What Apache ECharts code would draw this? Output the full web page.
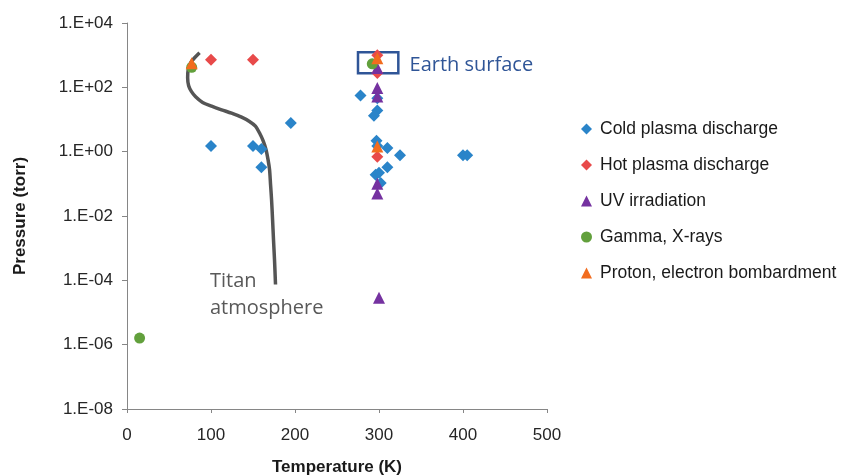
<!DOCTYPE html>
<html>
<head>
<meta charset="UTF-8">
<title>Pressure vs temperature</title>
<script src="https://cdn.jsdelivr.net/npm/echarts@6/dist/echarts.min.js"></script>
<style>
  html, body { margin: 0; padding: 0; background: #fff; }
  #main { width: 841px; height: 476px; }
</style>
</head>
<body>
<div id="main"></div>
<script>
// values: temperature (K) / pressure (torr)
var coldT = [100, 150, 160, 160, 195, 278, 298, 294, 298, 297, 298, 310, 325, 310, 296, 300, 302, 400, 405];
var coldP = [1.5, 1.5, 1.2, 0.33, 7.8, 56, 19, 13, 46, 2.2, 1.5, 1.3, 0.78, 0.33, 0.19, 0.22, 0.107, 0.78, 0.78];

var hotT = [100, 150, 298, 298, 298];
var hotP = [720, 720, 1000, 280, 0.7];

var uvT = [298, 298, 298, 298, 298, 300];
var uvP = [400, 95, 52, 0.1, 0.05, 2.9e-5];

var gammaT = [77, 292, 15];
var gammaP = [420, 540, 1.6e-6];

var protonT = [77, 298, 298];
var protonP = [560, 800, 1.45];

// Titan atmosphere profile
var titanT = [86.4, 80.5, 75.7, 72.8, 72.2, 73.4, 76.6, 81.7, 90, 100.7, 112.6, 124.5, 136.4, 145.8, 152.9, 157.8, 162, 165.5, 167.9, 169.7, 170.9, 172.1, 173.3, 174.4, 175.6, 176.8];
var titanP = [1190, 830, 580, 350, 200, 112, 75, 51, 34, 26, 20, 15.7, 11.8, 8.7, 6.2, 3.8, 2.2, 1.15, 0.565, 0.276, 0.094, 0.032, 0.0077, 0.00185, 0.00044, 0.000074];

var seriesNames = ['Cold plasma discharge', 'Hot plasma discharge', 'UV irradiation', 'Gamma, X-rays', 'Proton, electron bombardment'];

function pairs(xs, ys) {
  var out = [];
  for (var i = 0; i < xs.length; i++) out.push([xs[i], ys[i]]);
  return out;
}

var myChart = echarts.init(document.getElementById('main'));

var font = '"Liberation Sans", Arial, sans-serif';

var option = {
  animation: false,
  backgroundColor: '#fff',
  grid: { left: 127, right: 294, top: 23, bottom: 67, outerBoundsMode: 'none', containLabel: false },
  legend: {
    data: seriesNames,
    orient: 'vertical',
    left: 576,
    top: 115,
    itemWidth: 11,
    itemHeight: 11,
    itemGap: 18,
    textStyle: { fontFamily: font, fontSize: 17.5, color: '#1a1a1a', padding: [0, 0, 0, 3] }
  },
  xAxis: {
    type: 'value',
    min: 0, max: 500, interval: 100,
    name: 'Temperature (K)',
    nameLocation: 'middle',
    nameGap: 50,
    nameTextStyle: { fontFamily: font, fontSize: 17, fontWeight: 'bold', color: '#1a1a1a' },
    axisLine: { onZero: false, lineStyle: { color: '#868686', width: 1 } },
    axisTick: { show: true, length: 4, lineStyle: { color: '#868686' } },
    axisLabel: { fontFamily: font, fontSize: 17, color: '#262626', margin: 18 },
    splitLine: { show: false }
  },
  yAxis: {
    type: 'log',
    logBase: 10,
    min: 1e-8, max: 1e4, interval: 2,
    name: 'Pressure (torr)',
    nameLocation: 'middle',
    nameGap: 98,
    nameTextStyle: { fontFamily: font, fontSize: 17, fontWeight: 'bold', color: '#1a1a1a' },
    axisLine: { show: true, lineStyle: { color: '#868686', width: 1 } },
    axisTick: { show: true, length: 5, lineStyle: { color: '#868686' } },
    minorTick: { show: false },
    axisLabel: {
      fontFamily: font, fontSize: 17, color: '#262626', margin: 14,
      formatter: function (v) {
        var e = Math.round(Math.log10(v));
        var a = Math.abs(e);
        return '1.E' + (e < 0 ? '-' : '+') + (a < 10 ? '0' : '') + a;
      }
    },
    splitLine: { show: false }
  },
  graphic: [{
    type: 'text',
    left: 210,
    top: 268,
    style: {
      text: 'Titan\natmosphere',
      fontFamily: '"Open Sans", sans-serif',
      fontSize: 20,
      lineHeight: 27,
      fill: '#595959'
    }
  }],
  series: [
    {
      name: 'Titan',
      type: 'line',
      data: pairs(titanT, titanP),
      smooth: 0.3,
      showSymbol: false,
      lineStyle: { color: '#555555', width: 3.5 },
      z: 1
    },
    {
      name: seriesNames[0],
      type: 'scatter',
      symbol: 'diamond',
      symbolSize: 12,
      itemStyle: { color: '#2a84c9', opacity: 1 },
      data: pairs(coldT, coldP),
      markArea: {
        silent: true,
        itemStyle: { color: 'rgba(0,0,0,0)', borderColor: '#2f5597', borderWidth: 2.5, opacity: 1 },
        label: {
          show: true,
          position: 'right',
          distance: 10,
          offset: [0, 3],
          fontFamily: '"Open Sans", sans-serif',
          fontSize: 20,
          color: '#2f5597'
        },
        data: [[{ name: 'Earth surface', coord: [275, 1230] }, { coord: [323, 275] }]]
      }
    },
    {
      name: seriesNames[1],
      type: 'scatter',
      symbol: 'diamond',
      symbolSize: 12,
      itemStyle: { color: '#e84a4a', opacity: 1 },
      data: pairs(hotT, hotP)
    },
    {
      name: seriesNames[2],
      type: 'scatter',
      symbol: 'triangle',
      symbolSize: 12,
      itemStyle: { color: '#7532a0', opacity: 1 },
      data: pairs(uvT, uvP)
    },
    {
      name: seriesNames[3],
      type: 'scatter',
      symbol: 'circle',
      symbolSize: 11,
      itemStyle: { color: '#62a03c', opacity: 1 },
      data: pairs(gammaT, gammaP)
    },
    {
      name: seriesNames[4],
      type: 'scatter',
      symbol: 'triangle',
      symbolSize: 12,
      itemStyle: { color: '#f26c1e', opacity: 1 },
      data: pairs(protonT, protonP)
    }
  ]
};

myChart.setOption(option);
</script>
</body>
</html>
